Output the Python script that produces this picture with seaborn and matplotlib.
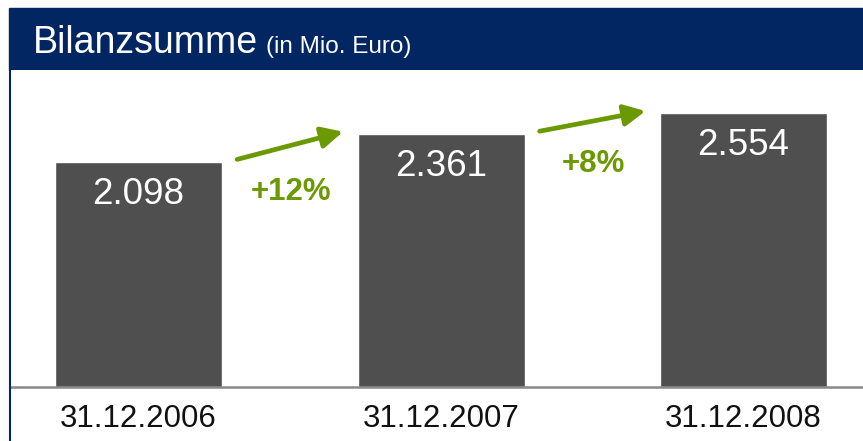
import matplotlib
matplotlib.use("Agg")
import matplotlib.pyplot as plt
import seaborn as sns
import pandas as pd
from matplotlib.patches import Rectangle
from matplotlib.lines import Line2D

# ── Data ───────────────────────────────────────────────
dates = ["31.12.2006", "31.12.2007", "31.12.2008"]
values = [2098, 2361, 2554]
value_labels = ["2.098", "2.361", "2.554"]
growth_labels = ["+12%", "+8%"]

NAVY = "#022661"
BAR = "#4f4f4f"
GREEN = "#6a9a00"

sns.set_style("white")
plt.rcParams["font.family"] = ["Liberation Sans", "DejaVu Sans"]

fig = plt.figure(figsize=(8.63, 4.41), dpi=100)
W, H = 863, 441

# header band
fig.add_artist(Rectangle((9 / W, (H - 70) / H), 1 - 9 / W, 62 / H,
                         transform=fig.transFigure, color=NAVY, zorder=0))
fig.text(33 / W, (H - 53) / H, "Bilanzsumme", color="white", fontsize=27,
         va="baseline", ha="left")
fig.text(266 / W, (H - 53) / H, "(in Mio. Euro)", color="white", fontsize=17.5,
         va="baseline", ha="left")
# left frame line
fig.add_artist(Line2D([10 / W, 10 / W], [0, (H - 70) / H], transform=fig.transFigure,
                      color=NAVY, lw=1.5))

ax = fig.add_axes([10 / W, (H - 387) / H, 853 / W, 317 / H])
df = pd.DataFrame({"date": dates, "value": values})
sns.barplot(data=df, x="date", y="value", color=BAR, width=0.552,
            saturation=1, ax=ax, zorder=2)

ax.set_xlim(-0.425, 2.395)
ax.set_ylim(0, 2957)
ax.set_xlabel("")
ax.set_ylabel("")
ax.set_yticks([])
ax.tick_params(axis="x", length=0, pad=12, labelsize=22.5, labelcolor="#111111")
for s in ["top", "right", "left"]:
    ax.spines[s].set_visible(False)
ax.spines["bottom"].set_color("#888888")
ax.spines["bottom"].set_linewidth(1.8)

for i, (v, lab) in enumerate(zip(values, value_labels)):
    ax.text(i, v - 300, lab, color="white", fontsize=26.5, ha="center", va="center", zorder=3)

# growth arrows
for i, g in enumerate(growth_labels):
    ax.annotate("", xy=(i + 0.676, values[i + 1] + 20), xytext=(i + 0.326, values[i] + 25),
                arrowprops=dict(arrowstyle="-|>", color=GREEN, lw=3.4, mutation_scale=32,
                                shrinkA=0, shrinkB=0))
    ax.text(i + 0.505, values[i] - 280, g, color=GREEN, fontsize=22.5, fontweight="bold",
            ha="center", va="center")

fig.savefig("out.png", dpi=100)
